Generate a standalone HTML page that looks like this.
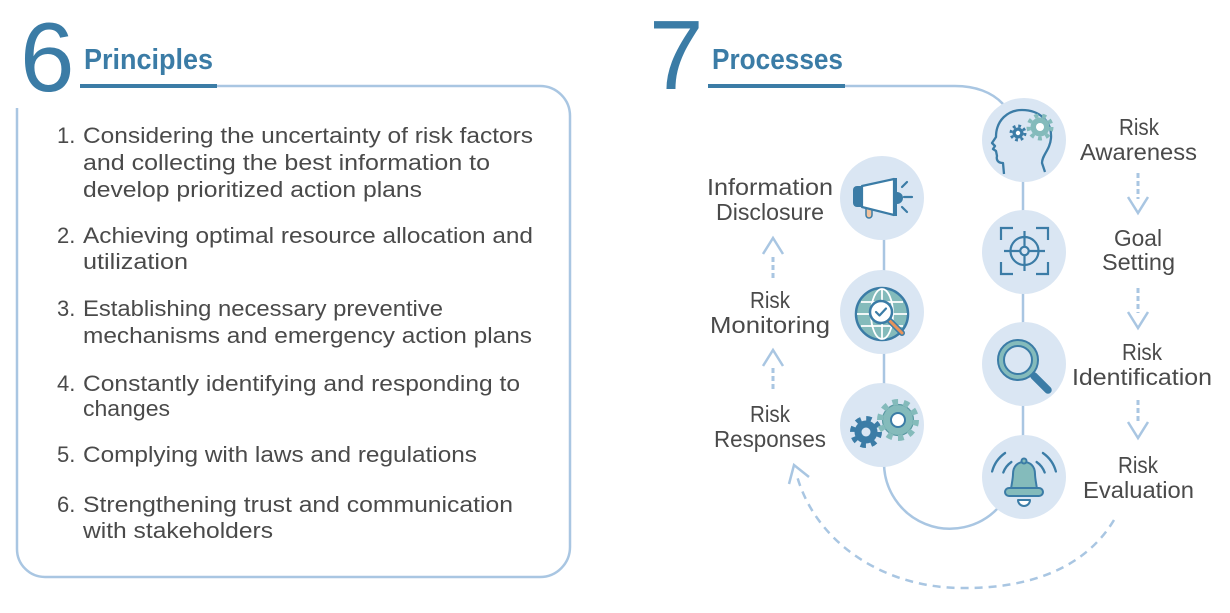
<!DOCTYPE html>
<html>
<head>
<meta charset="utf-8">
<style>
  html,body{margin:0;padding:0;background:#ffffff;}
  body{width:1230px;height:613px;overflow:hidden;}
  svg{display:block;}
  .t{font-family:"Liberation Sans",sans-serif;font-size:22px;fill:#4a4a4a;}
  .l{font-family:"Liberation Sans",sans-serif;font-size:23px;fill:#4a4a4a;}
</style>
</head>
<body>
<svg width="1230" height="613" viewBox="0 0 1230 613" xmlns="http://www.w3.org/2000/svg">
  <!-- ============ LEFT: PRINCIPLES ============ -->
  <text x="20" y="91" font-family="Liberation Sans, sans-serif" font-size="98" fill="#3b7ca6">6</text>
  <text x="84" y="69" font-family="Liberation Sans, sans-serif" font-size="29" font-weight="bold" fill="#3b7ca6" textLength="129" lengthAdjust="spacingAndGlyphs">Principles</text>
  <rect x="80" y="84" width="137" height="4" fill="#3b7ca6"/>
  <path d="M217 86 H540 A30 30 0 0 1 570 116 V547 A30 30 0 0 1 540 577 H45 A28 28 0 0 1 17 549 V108" fill="none" stroke="#a9c6e2" stroke-width="2.5"/>

  <g class="t">
    <text x="57" y="143">1.</text>
    <text x="83" y="143" textLength="450" lengthAdjust="spacingAndGlyphs">Considering the uncertainty of risk factors</text>
    <text x="83" y="170" textLength="407" lengthAdjust="spacingAndGlyphs">and collecting the best information to</text>
    <text x="83" y="197" textLength="339" lengthAdjust="spacingAndGlyphs">develop prioritized action plans</text>

    <text x="57" y="243">2.</text>
    <text x="83" y="243" textLength="450" lengthAdjust="spacingAndGlyphs">Achieving optimal resource allocation and</text>
    <text x="83" y="269" textLength="105" lengthAdjust="spacingAndGlyphs">utilization</text>

    <text x="57" y="316">3.</text>
    <text x="83" y="316" textLength="360" lengthAdjust="spacingAndGlyphs">Establishing necessary preventive</text>
    <text x="83" y="343" textLength="449" lengthAdjust="spacingAndGlyphs">mechanisms and emergency action plans</text>

    <text x="57" y="391">4.</text>
    <text x="83" y="391" textLength="437" lengthAdjust="spacingAndGlyphs">Constantly identifying and responding to</text>
    <text x="83" y="416" textLength="87" lengthAdjust="spacingAndGlyphs">changes</text>

    <text x="57" y="462">5.</text>
    <text x="83" y="462" textLength="394" lengthAdjust="spacingAndGlyphs">Complying with laws and regulations</text>

    <text x="57" y="512">6.</text>
    <text x="83" y="512" textLength="430" lengthAdjust="spacingAndGlyphs">Strengthening trust and communication</text>
    <text x="83" y="538" textLength="190" lengthAdjust="spacingAndGlyphs">with stakeholders</text>
  </g>

  <!-- ============ RIGHT: PROCESSES ============ -->
  <text x="649" y="89" font-family="Liberation Sans, sans-serif" font-size="98" fill="#3b7ca6">7</text>
  <text x="712" y="69" font-family="Liberation Sans, sans-serif" font-size="29" font-weight="bold" fill="#3b7ca6" textLength="131" lengthAdjust="spacingAndGlyphs">Processes</text>
  <rect x="708" y="84" width="137" height="4" fill="#3b7ca6"/>
  <path d="M845 86 H955 C975 86, 992 92, 1003 104" fill="none" stroke="#a9c6e2" stroke-width="2.5"/>

  <!-- connectors -->
  <line x1="1023" y1="140" x2="1023" y2="477" stroke="#a9c6e2" stroke-width="2.5"/>
  <line x1="884" y1="198" x2="884" y2="425" stroke="#a9c6e2" stroke-width="2.5"/>
  <path d="M884 425 V462 A66 66 0 0 0 998 508" fill="none" stroke="#a9c6e2" stroke-width="2.5"/>

  <!-- dashed return curve -->
  <path d="M1114 520 C1085 568, 1030 589, 960 588 C880 587, 815 540, 797 476" fill="none" stroke="#a9c6e2" stroke-width="2.5" stroke-dasharray="8 6"/>
  <path d="M789 484 L794 465 L809 477" fill="none" stroke="#a9c6e2" stroke-width="2.5"/>

  <!-- up arrows left -->
  <g stroke="#a9c6e2" fill="none">
    <line x1="773" y1="257" x2="773" y2="279" stroke-width="3" stroke-dasharray="5 3"/>
    <path d="M763 254 L773 238 L783 254" stroke-width="2.5"/>
    <line x1="773" y1="368" x2="773" y2="390" stroke-width="3" stroke-dasharray="5 3"/>
    <path d="M763 366 L773 350 L783 366" stroke-width="2.5"/>
  </g>
  <!-- down arrows right -->
  <g stroke="#a9c6e2" fill="none">
    <line x1="1138" y1="173" x2="1138" y2="199" stroke-width="3" stroke-dasharray="5 3"/>
    <path d="M1128 197 L1138 213 L1148 197" stroke-width="2.5"/>
    <line x1="1138" y1="288" x2="1138" y2="313" stroke-width="3" stroke-dasharray="5 3"/>
    <path d="M1128 312 L1138 328 L1148 312" stroke-width="2.5"/>
    <line x1="1138" y1="400" x2="1138" y2="423" stroke-width="3" stroke-dasharray="5 3"/>
    <path d="M1128 422 L1138 438 L1148 422" stroke-width="2.5"/>
  </g>

  <!-- circles -->
  <g fill="#dae6f3">
    <circle cx="1024" cy="140" r="42"/>
    <circle cx="1024" cy="252" r="42"/>
    <circle cx="1024" cy="364" r="42"/>
    <circle cx="1024" cy="477" r="42"/>
    <circle cx="882" cy="198" r="42"/>
    <circle cx="882" cy="312" r="42"/>
    <circle cx="882" cy="425" r="42"/>
  </g>

  <!-- Icon: head with gears -->
  <path d="M1004 174 L1003 163 C998 163, 996 160, 997 156 L996 151 L993 149 L995 146 L992 143 L996 137 C996 120, 1008 110, 1022 110 C1040 110, 1052 122, 1051 138 C1050 150, 1042 155, 1042 163 L1045 172" fill="none" stroke="#3b7ca6" stroke-width="2.3" stroke-linejoin="round"/>
  <circle cx="1018" cy="133" r="5.5" fill="#3b7ca6"/>
  <circle cx="1018" cy="133" r="7" fill="none" stroke="#3b7ca6" stroke-width="3" stroke-dasharray="2.75 2.75"/>
  <circle cx="1018" cy="133" r="2.2" fill="#ffffff"/>
  <circle cx="1040" cy="127" r="9.5" fill="#84bbbb"/>
  <circle cx="1040" cy="127" r="11.5" fill="none" stroke="#84bbbb" stroke-width="4" stroke-dasharray="4.01 4.01"/>
  <circle cx="1040" cy="127" r="4" fill="#ffffff"/>

  <!-- Icon: target -->
  <g fill="none" stroke="#3b7ca6" stroke-width="2.2">
    <path d="M1001 240 V228 H1013 M1036 228 H1048 V240 M1048 262 V274 H1036 M1013 274 H1001 V262"/>
    <circle cx="1024.5" cy="251" r="14"/>
    <circle cx="1024.5" cy="251" r="4.2"/>
    <path d="M1004 251 H1020 M1029 251 H1045 M1024.5 231 V246.5 M1024.5 255.5 V271"/>
  </g>

  <!-- Icon: magnifier -->
  <line x1="1034" y1="376" x2="1048" y2="390" stroke="#3b7ca6" stroke-width="7.5" stroke-linecap="round"/>
  <circle cx="1018" cy="360" r="17" fill="none" stroke="#84bbbb" stroke-width="6"/>
  <circle cx="1018" cy="360" r="20" fill="none" stroke="#3b7ca6" stroke-width="2"/>
  <circle cx="1018" cy="360" r="14" fill="none" stroke="#3b7ca6" stroke-width="2"/>

  <!-- Icon: bell -->
  <g stroke="#3b7ca6" stroke-width="2" stroke-linejoin="round">
    <path d="M1011 489 C1012 482, 1013 478, 1013 474 C1013 466, 1018 462, 1024 462 C1030 462, 1035 466, 1035 474 C1035 478, 1036 482, 1037 489 Z" fill="#84bbbb"/>
    <rect x="1005" y="488" width="38" height="8" rx="4" fill="#84bbbb"/>
    <circle cx="1024" cy="461" r="2.5" fill="#84bbbb"/>
    <path d="M1018 500 A6 6 0 0 0 1030 500 Z" fill="#ffffff"/>
  </g>
  <g fill="none" stroke="#3b7ca6" stroke-width="2.3" stroke-linecap="round">
    <path d="M992.1 471.5 A33 33 0 0 1 1005.1 453"/>
    <path d="M1042.9 453 A33 33 0 0 1 1055.9 471.5"/>
    <path d="M1003.3 472.5 A22 22 0 0 1 1011.4 462"/>
    <path d="M1036.6 462 A22 22 0 0 1 1044.7 472.5"/>
  </g>

  <!-- Icon: megaphone -->
  <path d="M862 186 H857 A4 4 0 0 0 853 190 V203 A4 4 0 0 0 857 207 H862 Z" fill="#3b7ca6"/>
  <path d="M866 207 V215 A3 3 0 0 0 872 215 V207 Z" fill="#f0c29e" stroke="#3b7ca6" stroke-width="1.5"/>
  <path d="M862 186 L894 179 V215 L862 207 Z" fill="#ffffff" stroke="#3b7ca6" stroke-width="2.2" stroke-linejoin="round"/>
  <rect x="893" y="178" width="4" height="38" fill="#3b7ca6"/>
  <path d="M897 192 A6 6 0 0 1 897 204 Z" fill="#3b7ca6"/>
  <g stroke="#3b7ca6" stroke-width="2.2" stroke-linecap="round">
    <line x1="902" y1="187" x2="907" y2="182"/>
    <line x1="904" y1="197" x2="912" y2="197"/>
    <line x1="902" y1="207" x2="907" y2="212"/>
  </g>

  <!-- Icon: globe with magnifier -->
  <circle cx="882" cy="314" r="26" fill="#84bbbb" stroke="#3b7ca6" stroke-width="2.5"/>
  <g fill="none" stroke="#ffffff" stroke-width="1.8">
    <ellipse cx="882" cy="314" rx="11" ry="25"/>
    <line x1="882" y1="289" x2="882" y2="339"/>
    <line x1="857" y1="314" x2="907" y2="314"/>
    <line x1="861" y1="302" x2="903" y2="302"/>
    <line x1="861" y1="326" x2="903" y2="326"/>
  </g>
  <line x1="890" y1="321" x2="902" y2="333" stroke="#3b7ca6" stroke-width="6" stroke-linecap="round"/>
  <line x1="890" y1="321" x2="902" y2="333" stroke="#e8935a" stroke-width="3" stroke-linecap="round"/>
  <circle cx="881" cy="312" r="11" fill="#ffffff" stroke="#3b7ca6" stroke-width="2.5"/>
  <path d="M876 312 L879.5 315.5 L886 308.5" fill="none" stroke="#3b7ca6" stroke-width="2.2" stroke-linecap="round" stroke-linejoin="round"/>

  <!-- Icon: gears -->
  <circle cx="866" cy="432" r="11.5" fill="#3b7ca6"/>
  <circle cx="866" cy="432" r="13.5" fill="none" stroke="#3b7ca6" stroke-width="5" stroke-dasharray="5.3 5.3"/>
  <circle cx="866" cy="432" r="4.5" fill="#dae6f3"/>
  <circle cx="898" cy="420" r="15.5" fill="#84bbbb" stroke="#5b9aa3" stroke-width="1.2"/>
  <circle cx="898" cy="420" r="18" fill="none" stroke="#84bbbb" stroke-width="6" stroke-dasharray="5.65 5.65"/>
  <circle cx="898" cy="420" r="7" fill="#ffffff" stroke="#3b7ca6" stroke-width="2"/>

  <!-- right labels -->
  <g class="l">
    <text x="1119" y="135" textLength="40" lengthAdjust="spacingAndGlyphs">Risk</text>
    <text x="1080" y="160" textLength="117" lengthAdjust="spacingAndGlyphs">Awareness</text>
    <text x="1114" y="246" textLength="48" lengthAdjust="spacingAndGlyphs">Goal</text>
    <text x="1102" y="270" textLength="73" lengthAdjust="spacingAndGlyphs">Setting</text>
    <text x="1122" y="360" textLength="40" lengthAdjust="spacingAndGlyphs">Risk</text>
    <text x="1072" y="385" textLength="140" lengthAdjust="spacingAndGlyphs">Identification</text>
    <text x="1118" y="473" textLength="40" lengthAdjust="spacingAndGlyphs">Risk</text>
    <text x="1083" y="498" textLength="111" lengthAdjust="spacingAndGlyphs">Evaluation</text>
  </g>
  <!-- left labels -->
  <g class="l">
    <text x="707" y="195" textLength="126" lengthAdjust="spacingAndGlyphs">Information</text>
    <text x="716" y="220" textLength="108" lengthAdjust="spacingAndGlyphs">Disclosure</text>
    <text x="750" y="308" textLength="40" lengthAdjust="spacingAndGlyphs">Risk</text>
    <text x="710" y="333" textLength="120" lengthAdjust="spacingAndGlyphs">Monitoring</text>
    <text x="750" y="422" textLength="40" lengthAdjust="spacingAndGlyphs">Risk</text>
    <text x="714" y="447" textLength="112" lengthAdjust="spacingAndGlyphs">Responses</text>
  </g>
</svg>
</body>
</html>
